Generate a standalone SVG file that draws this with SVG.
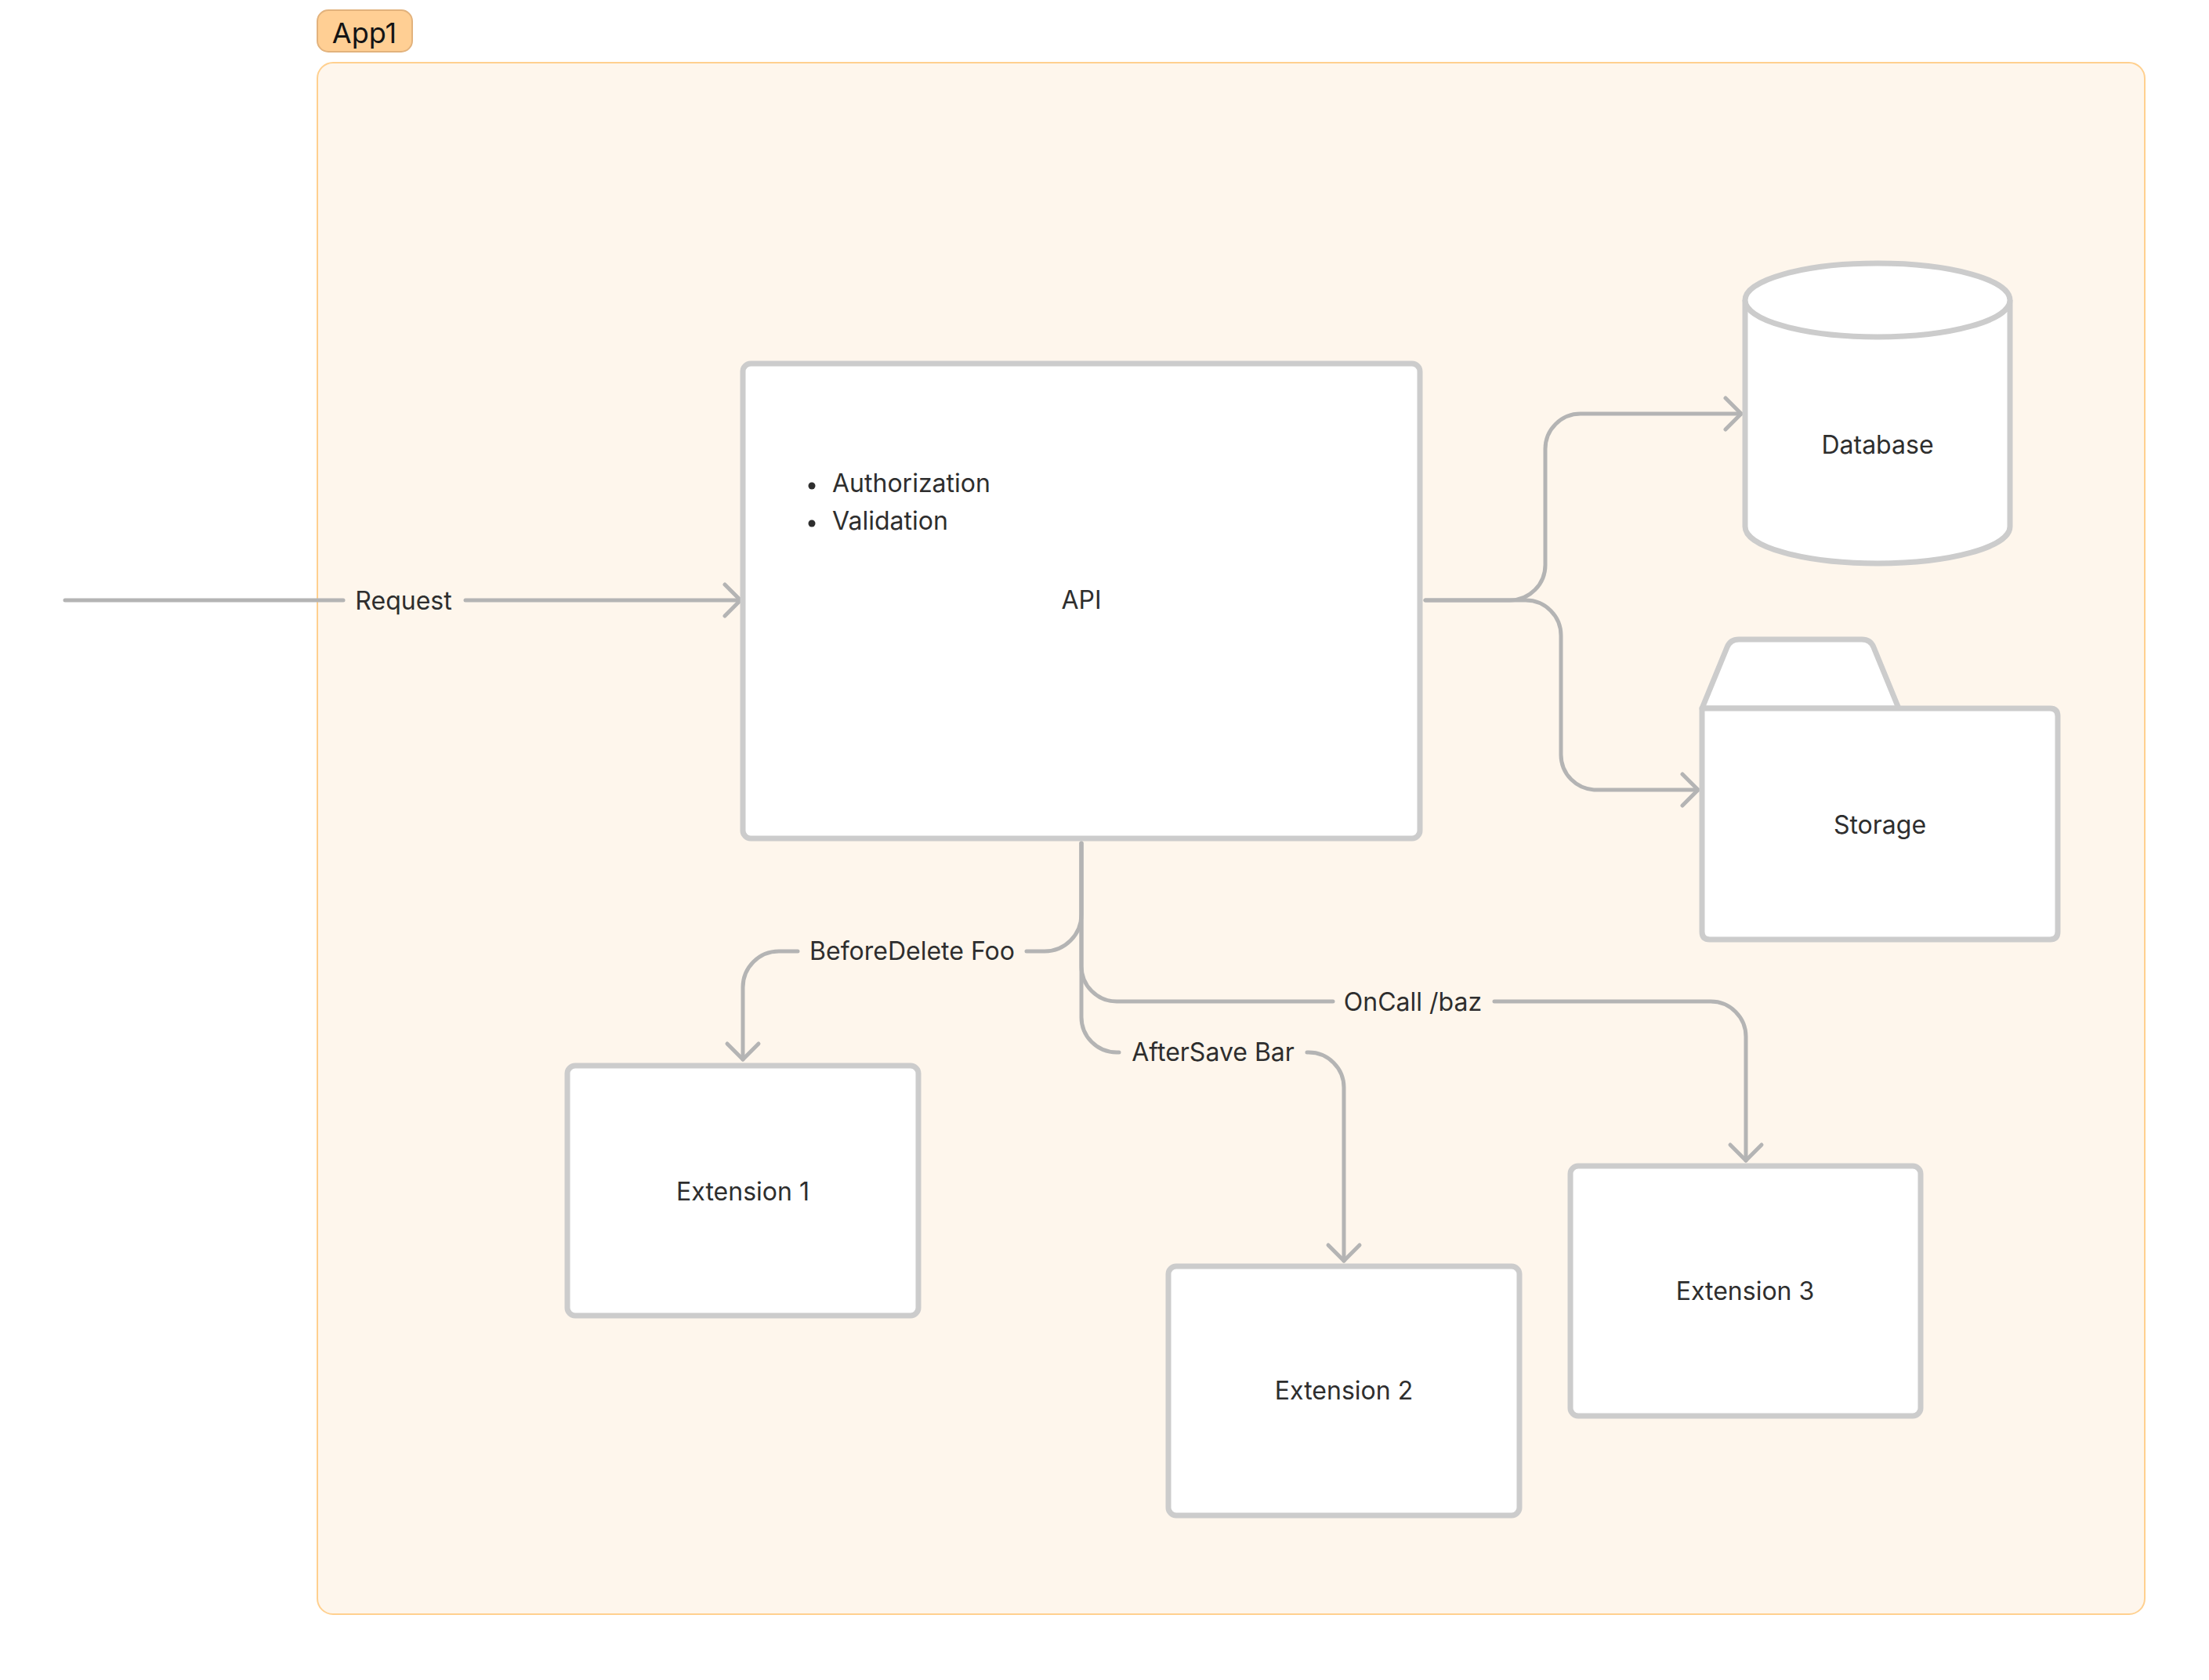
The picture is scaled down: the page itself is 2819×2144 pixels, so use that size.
<svg xmlns="http://www.w3.org/2000/svg" width="2819" height="2144" viewBox="0 0 2819 2144">
<defs>
<style>
.lbl{font-family:Inter,"Liberation Sans",sans-serif;font-size:32px;fill:#2e2e2e;text-anchor:middle}
.node{fill:#ffffff;stroke:#cccccc;stroke-width:7;stroke-linejoin:round}
.conn{fill:none;stroke:#b4b4b4;stroke-width:5;stroke-linecap:round;stroke-linejoin:round}
</style>
<marker id="arr" markerUnits="userSpaceOnUse" markerWidth="40" markerHeight="60" viewBox="-30 -30 40 60" refX="0" refY="0" orient="auto">
<path d="M-20,-20 L0,0 L-20,20" fill="none" stroke="#b4b4b4" stroke-width="5" stroke-linecap="round" stroke-linejoin="round"/>
</marker>
</defs>
<rect width="2819" height="2144" fill="#ffffff"/>
<g id="app1">
<rect x="405" y="80" width="2332" height="1980" rx="20" fill="#fef6ec" stroke="#ffd08f" stroke-width="2"/>
<rect x="405" y="13" width="121" height="53" rx="14" fill="#ffcf94" stroke="#e2b27c" stroke-width="2"/>
<text x="465" y="55" font-family="Inter,'Liberation Sans',sans-serif" font-size="36" fill="#141414" text-anchor="middle">App1</text>
</g>
<g id="connectors">
<path class="conn" d="M83 766 H438"/>
<path class="conn" d="M594 766 H945" marker-end="url(#arr)"/>
<path class="conn" d="M1819 766 H1927 A45 45 0 0 0 1972 721 V573 A45 45 0 0 1 2017 528 H2222" marker-end="url(#arr)"/>
<path class="conn" d="M1819 766 H1947 A45 45 0 0 1 1992 811 V963 A45 45 0 0 0 2037 1008 H2167" marker-end="url(#arr)"/>
<path class="conn" d="M1380 1076 V1167 A47 47 0 0 1 1333 1214 H1310"/>
<path class="conn" d="M1018 1214 H994 A46 46 0 0 0 948 1260 V1352" marker-end="url(#arr)"/>
<path class="conn" d="M1380 1076 V1233 A45 45 0 0 0 1425 1278 H1701"/>
<path class="conn" d="M1907 1278 H2183 A45 45 0 0 1 2228 1323 V1481" marker-end="url(#arr)"/>
<path class="conn" d="M1380 1076 V1298 A45 45 0 0 0 1425 1343 H1428"/>
<path class="conn" d="M1668 1343 H1670 A45 45 0 0 1 1715 1388 V1609" marker-end="url(#arr)"/>
<text class="lbl" x="515" y="778">Request</text>
<text class="lbl" x="1164" y="1225">BeforeDelete Foo</text>
<text class="lbl" x="1803" y="1290">OnCall /baz</text>
<text class="lbl" x="1548" y="1354">AfterSave Bar</text>
</g>
<g id="api">
<rect class="node" x="948" y="464" width="864" height="606" rx="10"/>
<circle cx="1036" cy="620" r="4.5" fill="#2e2e2e"/>
<circle cx="1036" cy="668" r="4.5" fill="#2e2e2e"/>
<text x="1062" y="628" font-family="Inter,'Liberation Sans',sans-serif" font-size="32" fill="#2e2e2e">Authorization</text>
<text x="1062" y="676" font-family="Inter,'Liberation Sans',sans-serif" font-size="32" fill="#2e2e2e">Validation</text>
<text class="lbl" x="1380" y="777">API</text>
</g>
<g id="database">
<path class="node" d="M2227 383 V672 A169 47 0 0 0 2565 672 V383 A169 47 0 0 0 2227 383 Z"/>
<path class="node" d="M2227 383 A169 47 0 0 0 2565 383" fill="none"/>
<text class="lbl" x="2396" y="579">Database</text>
</g>
<g id="storage">
<path class="node" d="M2172 904 L2204 826 Q2208 816 2219 816 H2376 Q2387 816 2391 826 L2423 904 Z"/>
<path class="node" d="M2172 904 H2616 Q2626 904 2626 914 V1189 Q2626 1199 2616 1199 H2182 Q2172 1199 2172 1189 Z"/>
<text class="lbl" x="2399" y="1064">Storage</text>
</g>
<g id="ext1">
<rect class="node" x="724" y="1360" width="448" height="319" rx="10"/>
<text class="lbl" x="948" y="1532">Extension 1</text>
</g>
<g id="ext2">
<rect class="node" x="1491" y="1616" width="448" height="318" rx="10"/>
<text class="lbl" x="1715" y="1786">Extension 2</text>
</g>
<g id="ext3">
<rect class="node" x="2004" y="1488" width="447" height="319" rx="10"/>
<text class="lbl" x="2227" y="1659">Extension 3</text>
</g>
</svg>
